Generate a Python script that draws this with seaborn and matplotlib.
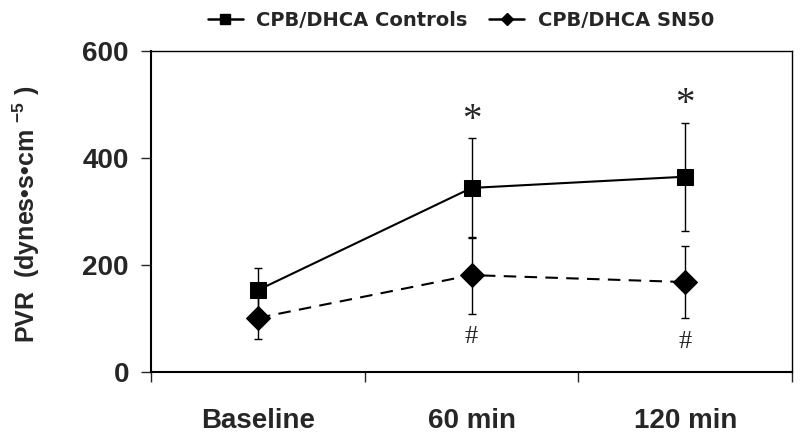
import numpy as np
import pandas as pd
import matplotlib
matplotlib.use("Agg")
import matplotlib.pyplot as plt
import seaborn as sns
from matplotlib.lines import Line2D

times = ["Baseline", "60 min", "120 min"]
controls = [153, 344, 365]
controls_err = [42, 93, 101]
sn50 = [101, 181, 168]
sn50_err = [39, 72, 67]
star_y = [None, 470, 500]
hash_y = [None, 65, 55]

df = pd.DataFrame({
    "x": list(range(3)) * 2,
    "PVR": controls + sn50,
    "group": ["CPB/DHCA Controls"] * 3 + ["CPB/DHCA SN50"] * 3,
})

sns.set_style("white")
plt.rcParams["font.family"] = ["Liberation Sans", "DejaVu Sans"]
plt.rcParams["mathtext.fontset"] = "custom"
plt.rcParams["mathtext.rm"] = "Liberation Sans:bold"
plt.rcParams["mathtext.bf"] = "Liberation Sans:bold"
plt.rcParams["mathtext.it"] = "Liberation Sans:bold"

fig = plt.figure(figsize=(8, 4.36), dpi=100)
ax = fig.add_axes([0.189, 0.147, 0.801, 0.736])

x = np.arange(3)
ax.errorbar(x, controls, yerr=controls_err, fmt="none", ecolor="black", elinewidth=1, capsize=3, capthick=1, zorder=2)
ax.errorbar(x, sn50, yerr=sn50_err, fmt="none", ecolor="black", elinewidth=1, capsize=3, capthick=1, zorder=2)

sns.lineplot(data=df, x="x", y="PVR", hue="group", style="group",
             palette=["black", "black"], markers=["s", "D"],
             dashes=[(1, 0), (6, 4)], markersize=12, linewidth=1.5,
             markeredgecolor="black", ax=ax, zorder=3, legend=False)

for i in range(1, 3):
    ax.text(i, star_y[i], "*", ha="center", va="center", fontsize=28, family="Liberation Serif")
    ax.text(i, hash_y[i], "#", ha="center", va="center", fontsize=19, family="Liberation Serif")

ax.set_xlim(-0.5, 2.5)
ax.set_ylim(0, 600)
ax.set_yticks([0, 200, 400, 600])
ax.set_yticklabels(["0", "200", "400", "600"], fontsize=20, fontweight="bold")
ax.set_xticks(x)
ax.set_xticklabels(times, fontsize=20, fontweight="bold")
ax.set_xticks([-0.5, 0.5, 1.5, 2.5], minor=True)
ax.tick_params(axis="x", which="major", length=0, pad=26)
ax.tick_params(axis="x", which="minor", length=7, width=1, direction="out", bottom=True)
ax.tick_params(axis="y", length=7, width=1, direction="out", left=True, pad=9)
ax.set_xlabel("")
ax.set_ylabel("PVR  (dynes•s•cm $^{-5}$ )", fontsize=18, fontweight="bold")
ax.yaxis.set_label_coords(-0.17, 0.49)
for side in ["left", "bottom", "top", "right"]:
    ax.spines[side].set_visible(True)
    ax.spines[side].set_color("black")
ax.spines["left"].set_linewidth(1.5)
ax.spines["bottom"].set_linewidth(1.5)
ax.spines["top"].set_linewidth(1)
ax.spines["right"].set_linewidth(1)

handles = [
    Line2D([], [], color="black", marker="s", markersize=7, linewidth=1.8, linestyle="-"),
    Line2D([], [], color="black", marker="D", markersize=6, linewidth=1.8, linestyle="-"),
]
fig.legend(handles, ["CPB/DHCA Controls", "CPB/DHCA SN50"], loc="center", ncol=2,
           bbox_to_anchor=(0.576, 0.954), frameon=False, handlelength=1.8, handletextpad=0.7,
           columnspacing=1.1, prop={"family": "DejaVu Sans", "weight": "bold", "size": 14})

fig.savefig("out.png", dpi=100)
